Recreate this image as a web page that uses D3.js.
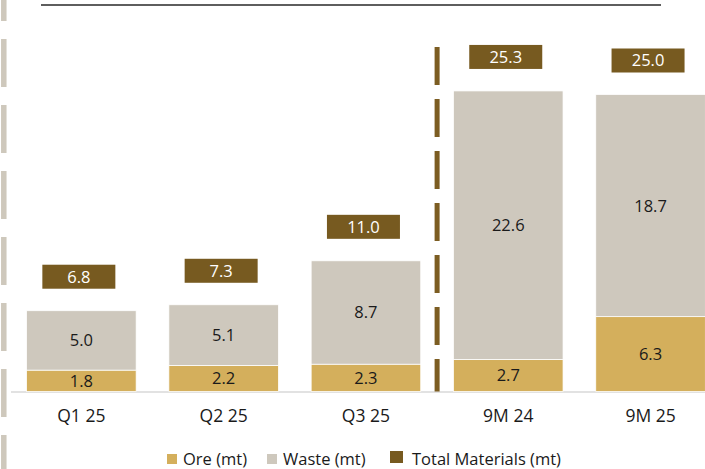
<!DOCTYPE html>
<html>
<head>
<meta charset="utf-8">
<script src="https://cdn.jsdelivr.net/npm/d3@7"></script>
<style>
  html, body { margin: 0; padding: 0; background: #ffffff; }
  svg { display: block; font-family: "Open Sans", "Noto Sans", sans-serif; }
</style>
</head>
<body>
<svg id="chart" width="705" height="469"></svg>
<script>
// Material movement by period (million tonnes)
const categories = ["Q1 25", "Q2 25", "Q3 25", "9M 24", "9M 25"];
const oreValues = [1.8, 2.2, 2.3, 2.7, 6.3];
const wasteValues = [5.0, 5.1, 8.7, 22.6, 18.7];
const totalValues = [6.8, 7.3, 11.0, 25.3, 25.0];
const legendLabels = ["Ore (mt)", "Waste (mt)", "Total Materials (mt)"];

const colors = { ore: "#D4AF5C", waste: "#CEC8BD", total: "#775A20", sep: "#7C5D22" };
const FONT = "'Open Sans', 'Noto Sans', sans-serif";

const svg = d3.select("#chart");
const W = 705, H = 469;

const x = d3.scaleBand()
  .domain(categories)
  .range([10.2, 721.7])
  .paddingInner(0.23)
  .paddingOuter(0.115);

const y = d3.scaleLinear().domain([0, 30]).range([391.5, 35.1]);

// Decorative rule across the top
svg.append("line")
  .attr("x1", 41).attr("x2", 661).attr("y1", 5).attr("y2", 5)
  .attr("stroke", "#5E5E5E").attr("stroke-width", 2.2);

// Dashed bar on the left edge
svg.append("line")
  .attr("x1", 3.8).attr("x2", 3.8).attr("y1", 0).attr("y2", H)
  .attr("stroke", "#CEC8BC").attr("stroke-width", 5.5)
  .attr("stroke-dasharray", "48 18").attr("stroke-dashoffset", 27);

// Baseline
svg.append("line")
  .attr("x1", 11).attr("x2", W).attr("y1", y(0) + 0.5).attr("y2", y(0) + 0.5)
  .attr("stroke", "#D9D9D9").attr("stroke-width", 1.5);

// Stacked data
const rows = categories.map((c, i) => ({ cat: c, ore: oreValues[i], waste: wasteValues[i], total: totalValues[i] }));
const stack = d3.stack().keys(["ore", "waste"])(rows);

const g = svg.append("g");
stack.forEach(layer => {
  g.selectAll(null).data(layer).enter().append("rect")
    .attr("x", d => x(d.data.cat))
    .attr("width", x.bandwidth())
    .attr("y", d => y(d[1]))
    .attr("height", d => y(d[0]) - y(d[1]))
    .attr("fill", colors[layer.key])
    .attr("stroke", "#ffffff").attr("stroke-width", 0.75);

  g.selectAll(null).data(layer).enter().append("text")
    .attr("x", d => x(d.data.cat) + x.bandwidth() / 2)
    .attr("y", d => (y(d[0]) + y(d[1])) / 2)
    .attr("dy", "0.36em")
    .attr("text-anchor", "middle")
    .attr("font-size", 16.5)
    .attr("fill", "#1a1a1a")
    .text(d => d.data[layer.key].toFixed(1));
});

// Period separator between quarters and nine-month totals
const sepX = x("Q3 25") + x.bandwidth() + (x.step() - x.bandwidth()) / 2;
svg.append("line")
  .attr("x1", sepX).attr("x2", sepX).attr("y1", 47).attr("y2", y(0))
  .attr("stroke", colors.sep).attr("stroke-width", 5)
  .attr("stroke-dasharray", "38 14");

// Total labels in boxes above each bar
const boxW = 73, boxH = 24;
const tot = svg.append("g").selectAll("g").data(rows).enter().append("g")
  .attr("transform", d => `translate(${x(d.cat) + x.bandwidth() / 2 - 2.5},${y(d.total) - 34})`);
tot.append("rect")
  .attr("x", -boxW / 2).attr("y", -boxH / 2)
  .attr("width", boxW).attr("height", boxH)
  .attr("fill", colors.total);
tot.append("text")
  .attr("text-anchor", "middle").attr("dy", "0.36em")
  .attr("font-size", 16.5).attr("fill", "#ffffff")
  .text(d => d.total.toFixed(1));

// Category axis labels
const xAxis = svg.append("g")
  .attr("transform", `translate(0,${y(0)})`)
  .call(d3.axisBottom(x).tickSize(0).tickPadding(0));
xAxis.select(".domain").remove();
xAxis.selectAll("text")
  .attr("y", 30.5).attr("dy", 0)
  .attr("font-size", 17.5)
  .attr("font-family", FONT)
  .attr("fill", "#1a1a1a");

// Legend
const legendItems = [
  { label: legendLabels[0], color: colors.ore, sx: 167, sy: 454, sw: 10, sh: 10, tx: 183 },
  { label: legendLabels[1], color: colors.waste, sx: 267, sy: 454, sw: 10, sh: 10, tx: 283 },
  { label: legendLabels[2], color: colors.total, sx: 390, sy: 451, sw: 13, sh: 12, tx: 412 }
];
const lg = svg.append("g");
legendItems.forEach(it => {
  lg.append("rect").attr("x", it.sx).attr("y", it.sy)
    .attr("width", it.sw).attr("height", it.sh).attr("fill", it.color);
  lg.append("text").attr("x", it.tx).attr("y", 465)
    .attr("font-size", 16.5).attr("fill", "#1a1a1a").text(it.label);
});
</script>
</body>
</html>
